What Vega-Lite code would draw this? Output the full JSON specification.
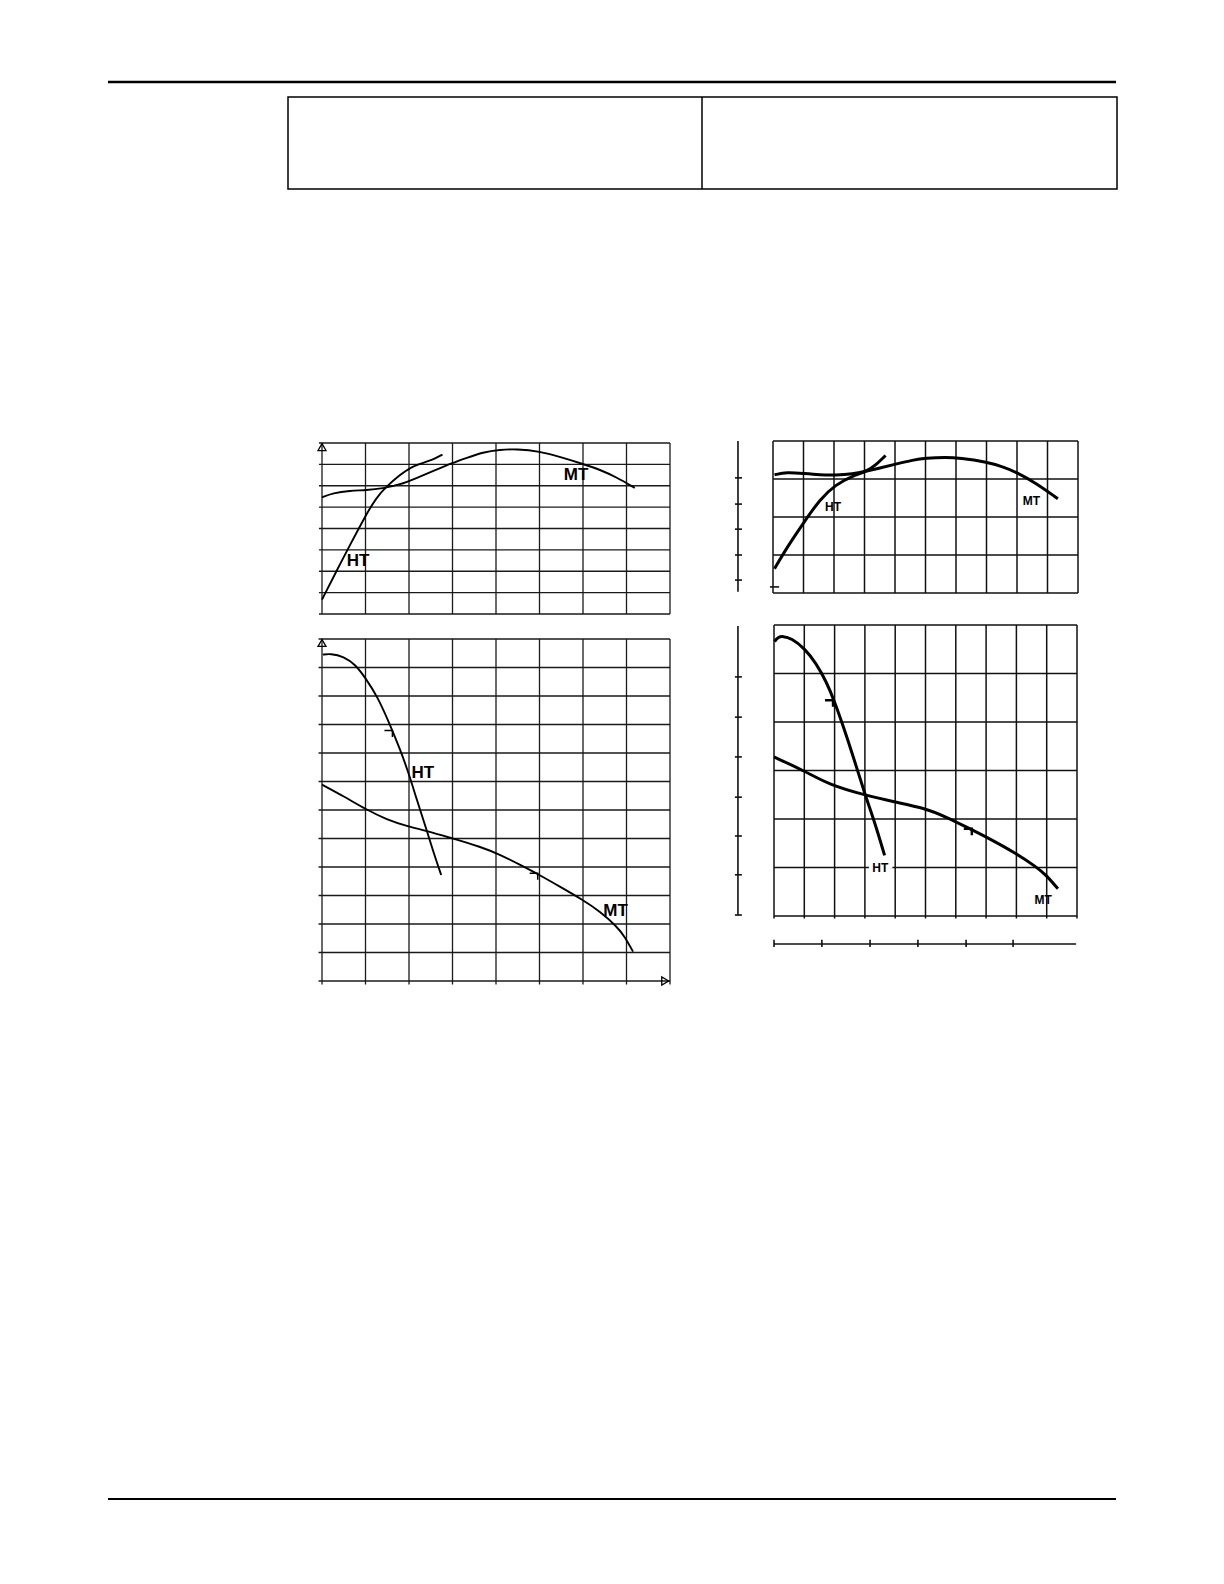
{
  "$schema": "https://vega.github.io/schema/vega-lite/v6.json",
  "description": "Pump curves HT / MT, two sets of panels on a letter page.",
  "width": 1224,
  "height": 1584,
  "padding": 0,
  "autosize": {"type": "none"},
  "background": "white",
  "config": {"view": {"stroke": null}, "axis": {"disable": true}},
  "datasets": {
    "curves": [
      {"panel": "LT", "series": "MT", "x": 0, "y": 5.46},
      {"panel": "LT", "series": "MT", "x": 0.25, "y": 5.66},
      {"panel": "LT", "series": "MT", "x": 0.64, "y": 5.77},
      {"panel": "LT", "series": "MT", "x": 1.02, "y": 5.79},
      {"panel": "LT", "series": "MT", "x": 1.4, "y": 5.87},
      {"panel": "LT", "series": "MT", "x": 1.79, "y": 6.05},
      {"panel": "LT", "series": "MT", "x": 2.17, "y": 6.36},
      {"panel": "LT", "series": "MT", "x": 2.55, "y": 6.68},
      {"panel": "LT", "series": "MT", "x": 3.0, "y": 7.07},
      {"panel": "LT", "series": "MT", "x": 3.32, "y": 7.3},
      {"panel": "LT", "series": "MT", "x": 3.7, "y": 7.57},
      {"panel": "LT", "series": "MT", "x": 4.09, "y": 7.69},
      {"panel": "LT", "series": "MT", "x": 4.47, "y": 7.72},
      {"panel": "LT", "series": "MT", "x": 5.01, "y": 7.61},
      {"panel": "LT", "series": "MT", "x": 5.47, "y": 7.35},
      {"panel": "LT", "series": "MT", "x": 6.0, "y": 7.02},
      {"panel": "LT", "series": "MT", "x": 6.39, "y": 6.75},
      {"panel": "LT", "series": "MT", "x": 6.77, "y": 6.4},
      {"panel": "LT", "series": "MT", "x": 7.19, "y": 5.9},
      {"panel": "LT", "series": "HT", "x": 0, "y": 0.67},
      {"panel": "LT", "series": "HT", "x": 0.33, "y": 2.0},
      {"panel": "LT", "series": "HT", "x": 0.65, "y": 3.25},
      {"panel": "LT", "series": "HT", "x": 1.0, "y": 4.6},
      {"panel": "LT", "series": "HT", "x": 1.25, "y": 5.45},
      {"panel": "LT", "series": "HT", "x": 1.5, "y": 6.0},
      {"panel": "LT", "series": "HT", "x": 1.79, "y": 6.5},
      {"panel": "LT", "series": "HT", "x": 2.02, "y": 6.85},
      {"panel": "LT", "series": "HT", "x": 2.32, "y": 7.07},
      {"panel": "LT", "series": "HT", "x": 2.55, "y": 7.22},
      {"panel": "LT", "series": "HT", "x": 2.77, "y": 7.46},
      {"panel": "LB", "series": "HT", "x": 0.02, "y": 11.45},
      {"panel": "LB", "series": "HT", "x": 0.19, "y": 11.49},
      {"panel": "LB", "series": "HT", "x": 0.5, "y": 11.39},
      {"panel": "LB", "series": "HT", "x": 0.77, "y": 11.1},
      {"panel": "LB", "series": "HT", "x": 1.0, "y": 10.63},
      {"panel": "LB", "series": "HT", "x": 1.27, "y": 9.99},
      {"panel": "LB", "series": "HT", "x": 1.53, "y": 9.11},
      {"panel": "LB", "series": "HT", "x": 1.8, "y": 8.11},
      {"panel": "LB", "series": "HT", "x": 1.99, "y": 7.3},
      {"panel": "LB", "series": "HT", "x": 2.18, "y": 6.36},
      {"panel": "LB", "series": "HT", "x": 2.38, "y": 5.42},
      {"panel": "LB", "series": "HT", "x": 2.57, "y": 4.48},
      {"panel": "LB", "series": "HT", "x": 2.74, "y": 3.72},
      {"panel": "LB", "series": "MT", "x": 0, "y": 6.89},
      {"panel": "LB", "series": "MT", "x": 0.5, "y": 6.48},
      {"panel": "LB", "series": "MT", "x": 1.0, "y": 6.03},
      {"panel": "LB", "series": "MT", "x": 1.49, "y": 5.66},
      {"panel": "LB", "series": "MT", "x": 1.98, "y": 5.42},
      {"panel": "LB", "series": "MT", "x": 2.41, "y": 5.27},
      {"panel": "LB", "series": "MT", "x": 2.98, "y": 5.01},
      {"panel": "LB", "series": "MT", "x": 3.63, "y": 4.72},
      {"panel": "LB", "series": "MT", "x": 4.1, "y": 4.43},
      {"panel": "LB", "series": "MT", "x": 4.56, "y": 4.07},
      {"panel": "LB", "series": "MT", "x": 5.0, "y": 3.72},
      {"panel": "LB", "series": "MT", "x": 5.47, "y": 3.31},
      {"panel": "LB", "series": "MT", "x": 5.99, "y": 2.85},
      {"panel": "LB", "series": "MT", "x": 6.39, "y": 2.44},
      {"panel": "LB", "series": "MT", "x": 6.78, "y": 1.91},
      {"panel": "LB", "series": "MT", "x": 6.96, "y": 1.56},
      {"panel": "LB", "series": "MT", "x": 7.15, "y": 1.03},
      {"panel": "RT", "series": "MT", "x": 0.05, "y": 3.11},
      {"panel": "RT", "series": "MT", "x": 0.44, "y": 3.18},
      {"panel": "RT", "series": "MT", "x": 1.04, "y": 3.14},
      {"panel": "RT", "series": "MT", "x": 1.53, "y": 3.11},
      {"panel": "RT", "series": "MT", "x": 2.05, "y": 3.1},
      {"panel": "RT", "series": "MT", "x": 2.62, "y": 3.13},
      {"panel": "RT", "series": "MT", "x": 3.03, "y": 3.2},
      {"panel": "RT", "series": "MT", "x": 3.5, "y": 3.29},
      {"panel": "RT", "series": "MT", "x": 4.01, "y": 3.39},
      {"panel": "RT", "series": "MT", "x": 4.59, "y": 3.5},
      {"panel": "RT", "series": "MT", "x": 5.01, "y": 3.55},
      {"panel": "RT", "series": "MT", "x": 5.68, "y": 3.57},
      {"panel": "RT", "series": "MT", "x": 6.12, "y": 3.55},
      {"panel": "RT", "series": "MT", "x": 6.99, "y": 3.45},
      {"panel": "RT", "series": "MT", "x": 7.54, "y": 3.32},
      {"panel": "RT", "series": "MT", "x": 7.98, "y": 3.18},
      {"panel": "RT", "series": "MT", "x": 8.63, "y": 2.89},
      {"panel": "RT", "series": "MT", "x": 9.34, "y": 2.48},
      {"panel": "RT", "series": "HT", "x": 0.05, "y": 0.64},
      {"panel": "RT", "series": "HT", "x": 0.44, "y": 1.18},
      {"panel": "RT", "series": "HT", "x": 1.04, "y": 1.89},
      {"panel": "RT", "series": "HT", "x": 1.53, "y": 2.46},
      {"panel": "RT", "series": "HT", "x": 2.05, "y": 2.85},
      {"panel": "RT", "series": "HT", "x": 2.62, "y": 3.09},
      {"panel": "RT", "series": "HT", "x": 3.03, "y": 3.18},
      {"panel": "RT", "series": "HT", "x": 3.39, "y": 3.38},
      {"panel": "RT", "series": "HT", "x": 3.69, "y": 3.62},
      {"panel": "RB", "series": "HT", "x": 0.02, "y": 5.66},
      {"panel": "RB", "series": "HT", "x": 0.13, "y": 5.75},
      {"panel": "RB", "series": "HT", "x": 0.29, "y": 5.77},
      {"panel": "RB", "series": "HT", "x": 0.57, "y": 5.73},
      {"panel": "RB", "series": "HT", "x": 1.01, "y": 5.52},
      {"panel": "RB", "series": "HT", "x": 1.39, "y": 5.21},
      {"panel": "RB", "series": "HT", "x": 1.73, "y": 4.83},
      {"panel": "RB", "series": "HT", "x": 2.0, "y": 4.42},
      {"panel": "RB", "series": "HT", "x": 2.27, "y": 3.94},
      {"panel": "RB", "series": "HT", "x": 2.6, "y": 3.32},
      {"panel": "RB", "series": "HT", "x": 3.01, "y": 2.49},
      {"panel": "RB", "series": "HT", "x": 3.32, "y": 1.94},
      {"panel": "RB", "series": "HT", "x": 3.65, "y": 1.25},
      {"panel": "RB", "series": "MT", "x": 0, "y": 3.28},
      {"panel": "RB", "series": "MT", "x": 1.01, "y": 2.99},
      {"panel": "RB", "series": "MT", "x": 1.84, "y": 2.7},
      {"panel": "RB", "series": "MT", "x": 3.01, "y": 2.49},
      {"panel": "RB", "series": "MT", "x": 4.0, "y": 2.35},
      {"panel": "RB", "series": "MT", "x": 5.0, "y": 2.22},
      {"panel": "RB", "series": "MT", "x": 5.69, "y": 2.04},
      {"panel": "RB", "series": "MT", "x": 6.46, "y": 1.8},
      {"panel": "RB", "series": "MT", "x": 7.01, "y": 1.63},
      {"panel": "RB", "series": "MT", "x": 8.0, "y": 1.29},
      {"panel": "RB", "series": "MT", "x": 8.66, "y": 1.01},
      {"panel": "RB", "series": "MT", "x": 8.99, "y": 0.84},
      {"panel": "RB", "series": "MT", "x": 9.37, "y": 0.56}
    ],
    "labels": [
      {"panel": "LT", "text": "HT", "x": 0.83, "y": 2.46},
      {"panel": "LT", "text": "MT", "x": 5.84, "y": 6.49},
      {"panel": "LB", "text": "HT", "x": 2.32, "y": 7.29},
      {"panel": "LB", "text": "MT", "x": 6.75, "y": 2.44},
      {"panel": "RT", "text": "HT", "x": 1.97, "y": 2.26},
      {"panel": "RT", "text": "MT", "x": 8.47, "y": 2.43},
      {"panel": "RB", "text": "HT", "x": 3.51, "y": 1.0},
      {"panel": "RB", "text": "MT", "x": 8.88, "y": 0.34}
    ],
    "bep": [
      {"panel": "LB", "series": "HT", "x": 1.55, "y": 8.79},
      {"panel": "LB", "series": "MT", "x": 4.89, "y": 3.78},
      {"panel": "RB", "series": "HT", "x": 1.85, "y": 4.45},
      {"panel": "RB", "series": "MT", "x": 6.43, "y": 1.8}
    ]
  },
  "resolve": {"scale": {"x": "independent", "y": "independent"}},
  "layer": [
    {
      "layer": [
        {
          "data": {"values": [{"x": 0.75, "x2": 7.75, "y": 0.569, "w": 2.4}, {"x": 0.75, "x2": 7.75, "y": 10.41, "w": 2}]},
          "mark": {"type": "rule", "color": "black"},
          "encoding": {
            "x": {"field": "x", "type": "quantitative", "scale": {"domain": [0, 8.5], "range": [0, 1224]}, "axis": null},
            "x2": {"field": "x2"},
            "y": {"field": "y", "type": "quantitative", "scale": {"domain": [0, 11], "range": [0, 1584]}, "axis": null},
            "strokeWidth": {"field": "w", "type": "quantitative", "scale": null}
          }
        },
        {
          "data": {"values": [{"x": 2.0, "x2": 7.757, "y": 0.674, "y2": 1.313}]},
          "mark": {"type": "rect", "fill": null, "stroke": "black", "strokeWidth": 1.5},
          "encoding": {
            "x": {"field": "x", "type": "quantitative", "scale": {"domain": [0, 8.5], "range": [0, 1224]}, "axis": null},
            "x2": {"field": "x2"},
            "y": {"field": "y", "type": "quantitative", "scale": {"domain": [0, 11], "range": [0, 1584]}, "axis": null},
            "y2": {"field": "y2"}
          }
        },
        {
          "data": {"values": [{"x": 4.875, "y": 0.674, "y2": 1.313}]},
          "mark": {"type": "rule", "color": "black", "strokeWidth": 1.5},
          "encoding": {
            "x": {"field": "x", "type": "quantitative", "scale": {"domain": [0, 8.5], "range": [0, 1224]}, "axis": null},
            "y": {"field": "y", "type": "quantitative", "scale": {"domain": [0, 11], "range": [0, 1584]}, "axis": null},
            "y2": {"field": "y2"}
          }
        }
      ]
    },
    {
      "layer": [
        {
          "data": {"values": [{"x": 0}, {"x": 1}, {"x": 2}, {"x": 3}, {"x": 4}, {"x": 5}, {"x": 6}, {"x": 7}, {"x": 8}]},
          "mark": {"type": "rule", "color": "#1a1a1a", "strokeWidth": 1.3},
          "encoding": {
            "x": {"field": "x", "type": "quantitative", "scale": {"domain": [0, 8], "range": [322, 670]}, "axis": null},
            "y": {"datum": 0, "type": "quantitative", "scale": {"domain": [0, 8], "range": [614, 443]}, "axis": null},
            "y2": {"datum": 8}
          }
        },
        {
          "data": {"values": [{"y": 0}, {"y": 1}, {"y": 2}, {"y": 3}, {"y": 4}, {"y": 5}, {"y": 6}, {"y": 7}, {"y": 8}]},
          "mark": {"type": "rule", "color": "#1a1a1a", "strokeWidth": 1.3},
          "encoding": {
            "x": {"datum": -0.07, "type": "quantitative", "scale": {"domain": [0, 8], "range": [322, 670]}, "axis": null},
            "x2": {"datum": 8},
            "y": {"field": "y", "type": "quantitative", "scale": {"domain": [0, 8], "range": [614, 443]}, "axis": null}
          }
        },
        {
          "data": {"name": "curves"},
          "transform": [{"filter": "datum.panel === 'LT'"}],
          "mark": {"type": "line", "color": "black", "strokeWidth": 1.9, "interpolate": "basis"},
          "encoding": {
            "x": {"field": "x", "type": "quantitative", "scale": {"domain": [0, 8], "range": [322, 670]}, "axis": null},
            "y": {"field": "y", "type": "quantitative", "scale": {"domain": [0, 8], "range": [614, 443]}, "axis": null},
            "detail": {"field": "series"}
          }
        },
        {
          "data": {"name": "labels"},
          "transform": [{"filter": "datum.panel === 'LT'"}],
          "mark": {"type": "text", "font": "Liberation Sans", "fontWeight": "bold", "fontSize": 17, "align": "center", "baseline": "middle", "color": "black"},
          "encoding": {
            "x": {"field": "x", "type": "quantitative", "scale": {"domain": [0, 8], "range": [322, 670]}, "axis": null},
            "y": {"field": "y", "type": "quantitative", "scale": {"domain": [0, 8], "range": [614, 443]}, "axis": null},
            "text": {"field": "text"}
          }
        },
        {
          "data": {"values": [{"x": 0, "y": 7.81}]},
          "mark": {"type": "point", "shape": "triangle-up", "size": 64, "filled": false, "color": "black", "strokeWidth": 1.3, "opacity": 1},
          "encoding": {
            "x": {"field": "x", "type": "quantitative", "scale": {"domain": [0, 8], "range": [322, 670]}, "axis": null},
            "y": {"field": "y", "type": "quantitative", "scale": {"domain": [0, 8], "range": [614, 443]}, "axis": null}
          }
        }
      ]
    },
    {
      "layer": [
        {
          "data": {"values": [{"x": 0}, {"x": 1}, {"x": 2}, {"x": 3}, {"x": 4}, {"x": 5}, {"x": 6}, {"x": 7}, {"x": 8}]},
          "mark": {"type": "rule", "color": "#1a1a1a", "strokeWidth": 1.3},
          "encoding": {
            "x": {"field": "x", "type": "quantitative", "scale": {"domain": [0, 8], "range": [322, 670]}, "axis": null},
            "y": {"datum": -0.12, "type": "quantitative", "scale": {"domain": [0, 12], "range": [981, 639]}, "axis": null},
            "y2": {"datum": 12}
          }
        },
        {
          "data": {"values": [{"y": 0}, {"y": 1}, {"y": 2}, {"y": 3}, {"y": 4}, {"y": 5}, {"y": 6}, {"y": 7}, {"y": 8}, {"y": 9}, {"y": 10}, {"y": 11}, {"y": 12}]},
          "mark": {"type": "rule", "color": "#1a1a1a", "strokeWidth": 1.3},
          "encoding": {
            "x": {"datum": -0.08, "type": "quantitative", "scale": {"domain": [0, 8], "range": [322, 670]}, "axis": null},
            "x2": {"datum": 8},
            "y": {"field": "y", "type": "quantitative", "scale": {"domain": [0, 12], "range": [981, 639]}, "axis": null}
          }
        },
        {
          "data": {"name": "curves"},
          "transform": [{"filter": "datum.panel === 'LB'"}],
          "mark": {"type": "line", "color": "black", "strokeWidth": 1.9, "interpolate": "basis"},
          "encoding": {
            "x": {"field": "x", "type": "quantitative", "scale": {"domain": [0, 8], "range": [322, 670]}, "axis": null},
            "y": {"field": "y", "type": "quantitative", "scale": {"domain": [0, 12], "range": [981, 639]}, "axis": null},
            "detail": {"field": "series"}
          }
        },
        {
          "data": {"name": "bep"},
          "transform": [{"filter": "datum.panel === 'LB'"}],
          "mark": {"type": "point", "shape": "M -1 0 L 0.6 0 L 0.6 1.3", "size": 100, "filled": false, "color": "black", "strokeWidth": 1.5, "opacity": 1},
          "encoding": {
            "x": {"field": "x", "type": "quantitative", "scale": {"domain": [0, 8], "range": [322, 670]}, "axis": null},
            "y": {"field": "y", "type": "quantitative", "scale": {"domain": [0, 12], "range": [981, 639]}, "axis": null}
          }
        },
        {
          "data": {"name": "labels"},
          "transform": [{"filter": "datum.panel === 'LB'"}],
          "mark": {"type": "text", "font": "Liberation Sans", "fontWeight": "bold", "fontSize": 17, "align": "center", "baseline": "middle", "color": "black"},
          "encoding": {
            "x": {"field": "x", "type": "quantitative", "scale": {"domain": [0, 8], "range": [322, 670]}, "axis": null},
            "y": {"field": "y", "type": "quantitative", "scale": {"domain": [0, 12], "range": [981, 639]}, "axis": null},
            "text": {"field": "text"}
          }
        },
        {
          "data": {"values": [{"x": 0, "y": 11.86, "shape": "triangle-up"}, {"x": 7.89, "y": 0, "shape": "triangle-right"}]},
          "mark": {"type": "point", "size": 64, "filled": false, "color": "black", "strokeWidth": 1.3, "opacity": 1},
          "encoding": {
            "x": {"field": "x", "type": "quantitative", "scale": {"domain": [0, 8], "range": [322, 670]}, "axis": null},
            "y": {"field": "y", "type": "quantitative", "scale": {"domain": [0, 12], "range": [981, 639]}, "axis": null},
            "shape": {"field": "shape", "type": "nominal", "scale": null}
          }
        }
      ]
    },
    {
      "layer": [
        {
          "data": {"values": [{"x": 0}, {"x": 1}, {"x": 2}, {"x": 3}, {"x": 4}, {"x": 5}, {"x": 6}, {"x": 7}, {"x": 8}, {"x": 9}, {"x": 10}]},
          "mark": {"type": "rule", "color": "#111111", "strokeWidth": 1.5},
          "encoding": {
            "x": {"field": "x", "type": "quantitative", "scale": {"domain": [0, 10], "range": [773, 1078]}, "axis": null},
            "y": {"datum": 0, "type": "quantitative", "scale": {"domain": [0, 4], "range": [593, 441]}, "axis": null},
            "y2": {"datum": 4}
          }
        },
        {
          "data": {"values": [{"y": 0}, {"y": 1}, {"y": 2}, {"y": 3}, {"y": 4}]},
          "mark": {"type": "rule", "color": "#111111", "strokeWidth": 1.5},
          "encoding": {
            "x": {"datum": 0, "type": "quantitative", "scale": {"domain": [0, 10], "range": [773, 1078]}, "axis": null},
            "x2": {"datum": 10},
            "y": {"field": "y", "type": "quantitative", "scale": {"domain": [0, 4], "range": [593, 441]}, "axis": null}
          }
        },
        {
          "data": {"values": [{"x": -1.148}]},
          "mark": {"type": "rule", "color": "#111111", "strokeWidth": 1.6},
          "encoding": {
            "x": {"field": "x", "type": "quantitative", "scale": {"domain": [0, 10], "range": [773, 1078]}, "axis": null},
            "y": {"datum": 0.03, "type": "quantitative", "scale": {"domain": [0, 4], "range": [593, 441]}, "axis": null},
            "y2": {"datum": 4}
          }
        },
        {
          "data": {"values": [{"y": 0.34, "from": -1.246, "to": -1.016}, {"y": 1.0, "from": -1.246, "to": -1.016}, {"y": 1.68, "from": -1.246, "to": -1.016}, {"y": 2.34, "from": -1.246, "to": -1.016}, {"y": 3.03, "from": -1.246, "to": -1.016}, {"y": 0.16, "from": -0.1, "to": 0.2}]},
          "mark": {"type": "rule", "color": "#111111", "strokeWidth": 1.6},
          "encoding": {
            "x": {"field": "from", "type": "quantitative", "scale": {"domain": [0, 10], "range": [773, 1078]}, "axis": null},
            "x2": {"field": "to"},
            "y": {"field": "y", "type": "quantitative", "scale": {"domain": [0, 4], "range": [593, 441]}, "axis": null}
          }
        },
        {
          "data": {"name": "curves"},
          "transform": [{"filter": "datum.panel === 'RT'"}],
          "mark": {"type": "line", "color": "black", "strokeWidth": 3, "interpolate": "basis"},
          "encoding": {
            "x": {"field": "x", "type": "quantitative", "scale": {"domain": [0, 10], "range": [773, 1078]}, "axis": null},
            "y": {"field": "y", "type": "quantitative", "scale": {"domain": [0, 4], "range": [593, 441]}, "axis": null},
            "detail": {"field": "series"}
          }
        },
        {
          "data": {"name": "labels"},
          "transform": [{"filter": "datum.panel === 'RT'"}],
          "mark": {"type": "text", "font": "Liberation Sans", "fontWeight": "bold", "fontSize": 12, "align": "center", "baseline": "middle", "color": "black"},
          "encoding": {
            "x": {"field": "x", "type": "quantitative", "scale": {"domain": [0, 10], "range": [773, 1078]}, "axis": null},
            "y": {"field": "y", "type": "quantitative", "scale": {"domain": [0, 4], "range": [593, 441]}, "axis": null},
            "text": {"field": "text"}
          }
        }
      ]
    },
    {
      "layer": [
        {
          "data": {"values": [{"x": 0}, {"x": 1}, {"x": 2}, {"x": 3}, {"x": 4}, {"x": 5}, {"x": 6}, {"x": 7}, {"x": 8}, {"x": 9}, {"x": 10}]},
          "mark": {"type": "rule", "color": "#111111", "strokeWidth": 1.5},
          "encoding": {
            "x": {"field": "x", "type": "quantitative", "scale": {"domain": [0, 10], "range": [774, 1077]}, "axis": null},
            "y": {"datum": -0.05, "type": "quantitative", "scale": {"domain": [0, 6], "range": [916, 625]}, "axis": null},
            "y2": {"datum": 6}
          }
        },
        {
          "data": {"values": [{"y": 0}, {"y": 1}, {"y": 2}, {"y": 3}, {"y": 4}, {"y": 5}, {"y": 6}]},
          "mark": {"type": "rule", "color": "#111111", "strokeWidth": 1.5},
          "encoding": {
            "x": {"datum": 0, "type": "quantitative", "scale": {"domain": [0, 10], "range": [774, 1077]}, "axis": null},
            "x2": {"datum": 10},
            "y": {"field": "y", "type": "quantitative", "scale": {"domain": [0, 6], "range": [916, 625]}, "axis": null}
          }
        },
        {
          "data": {"values": [{"x": -1.19, "from": 0.02, "to": 5.98}, {"x": 0, "from": -0.49, "to": -0.64}, {"x": 1.58, "from": -0.49, "to": -0.64}, {"x": 3.17, "from": -0.49, "to": -0.64}, {"x": 4.75, "from": -0.49, "to": -0.64}, {"x": 6.34, "from": -0.49, "to": -0.64}, {"x": 7.89, "from": -0.49, "to": -0.64}]},
          "mark": {"type": "rule", "color": "#111111", "strokeWidth": 1.6},
          "encoding": {
            "x": {"field": "x", "type": "quantitative", "scale": {"domain": [0, 10], "range": [774, 1077]}, "axis": null},
            "y": {"field": "from", "type": "quantitative", "scale": {"domain": [0, 6], "range": [916, 625]}, "axis": null},
            "y2": {"field": "to"}
          }
        },
        {
          "data": {"values": [{"y": 4.93, "from": -1.29, "to": -1.06}, {"y": 4.1, "from": -1.29, "to": -1.06}, {"y": 3.28, "from": -1.29, "to": -1.06}, {"y": 2.45, "from": -1.29, "to": -1.06}, {"y": 1.65, "from": -1.29, "to": -1.06}, {"y": 0.85, "from": -1.29, "to": -1.06}, {"y": 0.02, "from": -1.29, "to": -1.06}, {"y": -0.577, "from": 0, "to": 9.97}]},
          "mark": {"type": "rule", "color": "#111111", "strokeWidth": 1.6},
          "encoding": {
            "x": {"field": "from", "type": "quantitative", "scale": {"domain": [0, 10], "range": [774, 1077]}, "axis": null},
            "x2": {"field": "to"},
            "y": {"field": "y", "type": "quantitative", "scale": {"domain": [0, 6], "range": [916, 625]}, "axis": null}
          }
        },
        {
          "data": {"name": "curves"},
          "transform": [{"filter": "datum.panel === 'RB'"}],
          "mark": {"type": "line", "color": "black", "strokeWidth": 3, "interpolate": "basis"},
          "encoding": {
            "x": {"field": "x", "type": "quantitative", "scale": {"domain": [0, 10], "range": [774, 1077]}, "axis": null},
            "y": {"field": "y", "type": "quantitative", "scale": {"domain": [0, 6], "range": [916, 625]}, "axis": null},
            "detail": {"field": "series"}
          }
        },
        {
          "data": {"name": "bep"},
          "transform": [{"filter": "datum.panel === 'RB'"}],
          "mark": {"type": "point", "shape": "M -1 0 L 0.6 0 L 0.6 1.3", "size": 100, "filled": false, "color": "black", "strokeWidth": 2.5, "opacity": 1},
          "encoding": {
            "x": {"field": "x", "type": "quantitative", "scale": {"domain": [0, 10], "range": [774, 1077]}, "axis": null},
            "y": {"field": "y", "type": "quantitative", "scale": {"domain": [0, 6], "range": [916, 625]}, "axis": null}
          }
        },
        {
          "data": {"name": "labels"},
          "transform": [{"filter": "datum.panel === 'RB' && datum.text === 'HT'"}],
          "mark": {"type": "text", "font": "Liberation Sans", "fontWeight": "bold", "fontSize": 12, "align": "center", "baseline": "middle", "fill": "white", "stroke": "white", "strokeWidth": 8},
          "encoding": {
            "x": {"field": "x", "type": "quantitative", "scale": {"domain": [0, 10], "range": [774, 1077]}, "axis": null},
            "y": {"field": "y", "type": "quantitative", "scale": {"domain": [0, 6], "range": [916, 625]}, "axis": null},
            "text": {"field": "text"}
          }
        },
        {
          "data": {"name": "labels"},
          "transform": [{"filter": "datum.panel === 'RB'"}],
          "mark": {"type": "text", "font": "Liberation Sans", "fontWeight": "bold", "fontSize": 12, "align": "center", "baseline": "middle", "color": "black"},
          "encoding": {
            "x": {"field": "x", "type": "quantitative", "scale": {"domain": [0, 10], "range": [774, 1077]}, "axis": null},
            "y": {"field": "y", "type": "quantitative", "scale": {"domain": [0, 6], "range": [916, 625]}, "axis": null},
            "text": {"field": "text"}
          }
        }
      ]
    }
  ]
}
